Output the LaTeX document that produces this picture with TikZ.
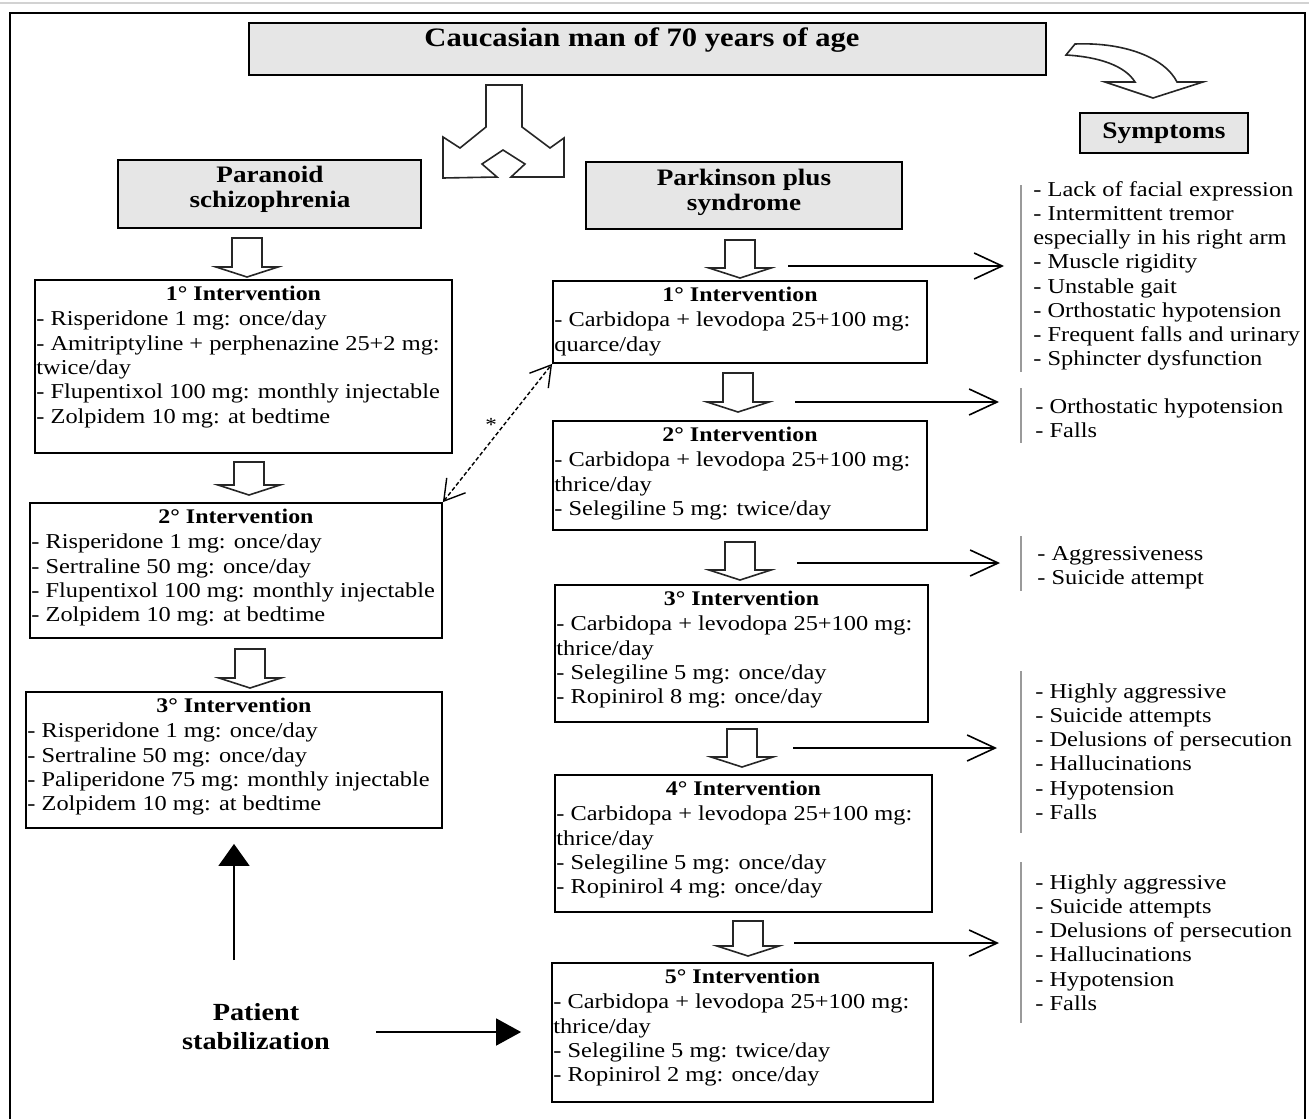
\documentclass[tikz,border=0pt]{standalone}
\usepackage{fontspec}
\setmainfont{Liberation Serif}[FakeStretch=1.15]
\usetikzlibrary{arrows.meta,fit,calc}
\definecolor{hdrgray}{HTML}{E6E6E6}
\definecolor{bargray}{HTML}{9A9A9A}
\newcommand{\interv}[7]{%
  \node[ibox, fit={(#2,#3) (#4,#5)}] (#1) {};
  \node[ihead] (#1h) at ($(#1.north)+(0,21)$) {#6};
  \node[ibody] (#1b) at (#2+1,#3+28.5) {\strut #7};
}
\newcommand{\downarr}[3]{%
  \draw[blockarr] (#1-15,#2) -- (#1+15,#2) -- (#1+15,#3-10) -- (#1+31,#3-10) -- (#1,#3) -- (#1-31,#3-10) -- (#1-15,#3-10) -- cycle;
}
\begin{document}
\begin{tikzpicture}[x=0.5pt,y=-0.5pt,
  hbox/.style={draw=black, line width=1pt, fill=hdrgray, inner sep=0pt},
  ibox/.style={draw=black, line width=0.9pt, inner sep=0pt},
  ihead/.style={anchor=base, inner sep=0pt, font=\fontsize{10.4}{12}\selectfont\bfseries},
  ibody/.style={anchor=north west, inner sep=0pt, align=left, font=\fontsize{10.6}{12.15}\selectfont},
  slist/.style={anchor=north west, inner sep=0pt, align=left, font=\fontsize{10.6}{12.1}\selectfont},
  ttl/.style={inner sep=0pt, align=center, font=\fontsize{11.8}{12.5}\selectfont\bfseries},
  blockarr/.style={draw=black!85, line width=0.8pt, fill=white, line join=miter},
  symarr/.style={line width=0.8pt, -{Straight Barb[length=14pt,width=13pt]}},
  bar/.style={draw=bargray, line width=1.3pt},
  dasharr/.style={line width=0.7pt, dash pattern=on 2pt off 1.2pt, {Straight Barb[length=10pt,width=12pt]}-{Straight Barb[length=10pt,width=12pt]}},
  fillarr/.style={line width=0.8pt},
]
\useasboundingbox (0,0) rectangle (1309,1119);
% page rule and frame
\draw[gray!35, line width=1pt] (0,3) -- (1309,3);
\draw[line width=1pt] (10,1119) -- (10,13) -- (1305,13) -- (1305,1119);

% header
\node[hbox, fit={(249,23) (1046,75)}] (hdr) {};
\node[ttl, font=\fontsize{13.3}{15}\selectfont\bfseries] (hdrt) at (642,40) {Caucasian man of 70 years of age};

% curved arrow to symptoms
\draw[blockarr] (1075,44) .. controls (1125,42) and (1165,58) .. (1177,82) -- (1203,82) -- (1153,98) -- (1105,82) -- (1135,82) .. controls (1125,66) and (1100,57) .. (1066,55) -- cycle;

% split arrow
\draw[blockarr] (486,85) -- (522,85) -- (522,127) -- (550,148) -- (564,138) -- (564,177) -- (511,177) -- (525,164) -- (503,150) -- (482,164) -- (497,177) -- (443,178) -- (443,137) -- (460,148) -- (486,127) -- cycle;

% titles
\node[hbox, fit={(118,160) (421,228)}] (ps) {};
\node[ttl] (pst) at (270,189) {Paranoid\\schizophrenia};
\node[hbox, fit={(586,162) (902,229)}] (pp) {};
\node[ttl] (ppt) at (744,192) {Parkinson plus\\syndrome};
\node[hbox, fit={(1080,113) (1248,153)}] (sy) {};
\node[ttl, font=\fontsize{11.9}{13}\selectfont\bfseries] (syt) at (1164,133) {Symptoms};

% left column interventions
\interv{L1}{35}{280}{452}{453}{1° Intervention}{- Risperidone 1 mg: once/day\\- Amitriptyline + perphenazine 25+2 mg:\\twice/day\\- Flupentixol 100 mg: monthly injectable\\- Zolpidem 10 mg: at bedtime}
\interv{L2}{30}{503}{442}{638}{2° Intervention}{- Risperidone 1 mg: once/day\\- Sertraline 50 mg: once/day\\- Flupentixol 100 mg: monthly injectable\\- Zolpidem 10 mg: at bedtime}
\interv{L3}{26}{692}{442}{828}{3° Intervention}{- Risperidone 1 mg: once/day\\- Sertraline 50 mg: once/day\\- Paliperidone 75 mg: monthly injectable\\- Zolpidem 10 mg: at bedtime}

% right column interventions
\interv{R1}{553}{281}{927}{363}{1° Intervention}{- Carbidopa + levodopa 25+100 mg:\\quarce/day}
\interv{R2}{553}{421}{927}{530}{2° Intervention}{- Carbidopa + levodopa 25+100 mg:\\thrice/day\\- Selegiline 5 mg: twice/day}
\interv{R3}{555}{585}{928}{722}{3° Intervention}{- Carbidopa + levodopa 25+100 mg:\\thrice/day\\- Selegiline 5 mg: once/day\\- Ropinirol 8 mg: once/day}
\interv{R4}{555}{775}{932}{912}{4° Intervention}{- Carbidopa + levodopa 25+100 mg:\\thrice/day\\- Selegiline 5 mg: once/day\\- Ropinirol 4 mg: once/day}
\interv{R5}{552}{963}{933}{1102}{5° Intervention}{- Carbidopa + levodopa 25+100 mg:\\thrice/day\\- Selegiline 5 mg: twice/day\\- Ropinirol 2 mg: once/day}

% block arrows
\downarr{247}{238}{277}
\downarr{249}{462}{495}
\downarr{250}{649}{688}
\downarr{740}{240}{278}
\downarr{738}{373}{412}
\downarr{740}{542}{580}
\downarr{742}{729}{767}
\downarr{748}{921}{956}

% dashed link
\draw[dasharr] (L2.north east) -- (R1.south west);
\node[inner sep=0pt, font=\fontsize{10}{12}\selectfont] (star) at (491,425) {*};

% symptom bars and lists
\draw[bar] (1021,185) -- (1021,372);
\draw[bar] (1021,388) -- (1021,443);
\draw[bar] (1021,536) -- (1021,591);
\draw[bar] (1021,671) -- (1021,833);
\draw[bar] (1021,862) -- (1021,1023);
\node[slist] (g1) at (1033,179) {\strut - Lack of facial expression\\- Intermittent tremor\\especially in his right arm\\- Muscle rigidity\\- Unstable gait\\- Orthostatic hypotension\\- Frequent falls and urinary\\- Sphincter dysfunction};
\node[slist] (g2) at (1035,396) {\strut - Orthostatic hypotension\\- Falls};
\node[slist] (g3) at (1037,543) {\strut - Aggressiveness\\- Suicide attempt};
\node[slist] (g4) at (1035,681) {\strut - Highly aggressive\\- Suicide attempts\\- Delusions of persecution\\- Hallucinations\\- Hypotension\\- Falls};
\node[slist] (g5) at (1035,872) {\strut - Highly aggressive\\- Suicide attempts\\- Delusions of persecution\\- Hallucinations\\- Hypotension\\- Falls};

% symptom arrows
\coordinate (s1) at (788,266); \coordinate (t1) at (1004,266);
\coordinate (s2) at (795,402); \coordinate (t2) at (999,402);
\coordinate (s3) at (797,563); \coordinate (t3) at (1000,563);
\coordinate (s4) at (793,748); \coordinate (t4) at (997,748);
\coordinate (s5) at (794,943); \coordinate (t5) at (999,943);
\draw[symarr] (s1) -- (t1);
\draw[symarr] (s2) -- (t2);
\draw[symarr] (s3) -- (t3);
\draw[symarr] (s4) -- (t4);
\draw[symarr] (s5) -- (t5);

% patient stabilization
\node[ttl, font=\fontsize{12.3}{14.5}\selectfont\bfseries] (pat) at (256,1027) {Patient\\stabilization};
\coordinate (pu) at (L3.south |- 0,960);
\coordinate (pr) at (376,1032);
\draw[fillarr, -{Triangle[length=11pt,width=15.5pt]}, shorten >=7.5pt] (pu) -- (L3.south);
\draw[fillarr, -{Triangle[length=12.5pt,width=13.5pt]}, shorten >=15pt] (pr) -- (pr -| R5.west);
\end{tikzpicture}
\end{document}
